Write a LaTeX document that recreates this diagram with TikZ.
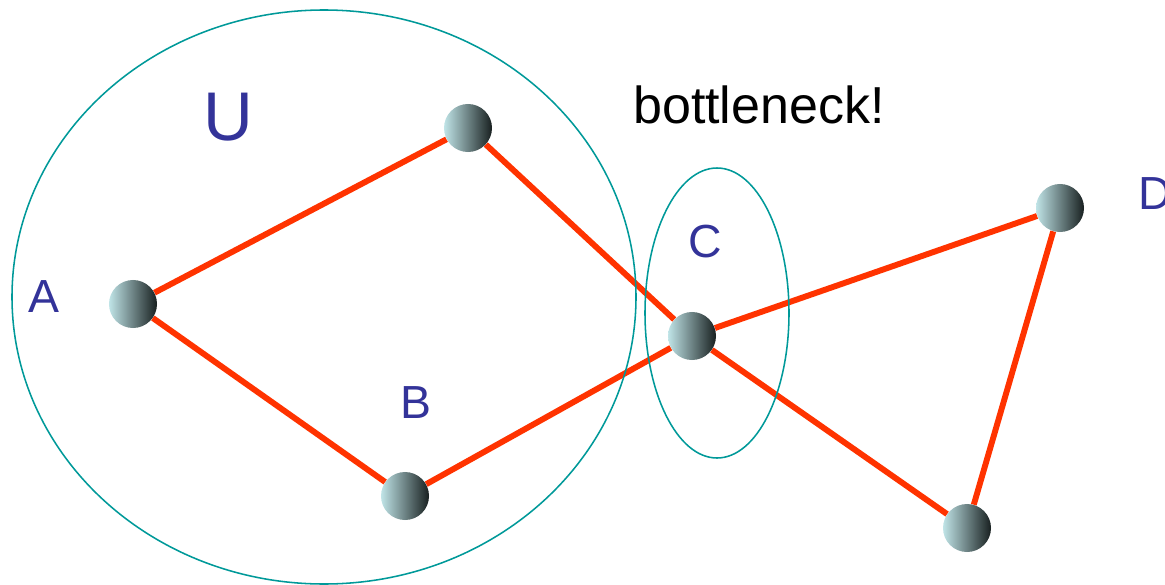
\documentclass[tikz,border=0pt]{standalone}
\usepackage{fontspec}
\setmainfont{Liberation Sans}
\usepackage{xcolor}
\usetikzlibrary{backgrounds}

\definecolor{edgered}{RGB}{255,51,0}
\definecolor{setteal}{RGB}{0,153,153}
\definecolor{labelblue}{RGB}{51,51,153}
\definecolor{nodelight}{RGB}{192,228,231}
\definecolor{nodedark}{RGB}{24,32,32}

\tikzset{
  vertex/.style={circle,minimum size=1.2cm,inner sep=0pt,
    left color=nodelight,right color=nodedark},
  link/.style={edgered,line width=4.2pt},
  region/.style={setteal,line width=1.1pt},
  lbl/.style={text=labelblue,font=\fontsize{33}{36}\selectfont}
}

\begin{document}
\begin{tikzpicture}[x=0.025cm,y=-0.025cm]
\useasboundingbox (0,0) rectangle (1165,585);

% Vertices
\node[vertex] (a) at (133,304) {};
\node[vertex] (t) at (468,128) {};
\node[vertex] (b) at (405,496) {};
\node[vertex] (c) at (692,336) {};
\node[vertex] (d) at (1060,208) {};
\node[vertex] (e) at (967,528) {};

\begin{pgfonlayer}{background}
% Edges
\draw[link] (a) -- (t);
\draw[link] (a) -- (b);
\draw[link] (t) -- (c);
\draw[link] (b) -- (c);
\draw[link] (c) -- (d);
\draw[link] (c) -- (e);
\draw[link] (d) -- (e);

% Cut sets
\draw[region] (324,297) ellipse [x radius=312,y radius=287];
\draw[region] (717,313) ellipse [x radius=72,y radius=145];
\end{pgfonlayer}

% Labels
\node[lbl] (la) at (44,297) {A};
\node[lbl,font=\fontsize{49}{54}\selectfont] (lu) at (228,117) {U};
\node[lbl] (lb) at (416,403) {B};
\node[lbl] (lc) at (705,242) {C};
\node[lbl] (ld) at (1155,194) {D};
\node[font=\fontsize{37}{42}\selectfont] (bn) at (759,105) {bottleneck!};

\end{tikzpicture}
\end{document}
